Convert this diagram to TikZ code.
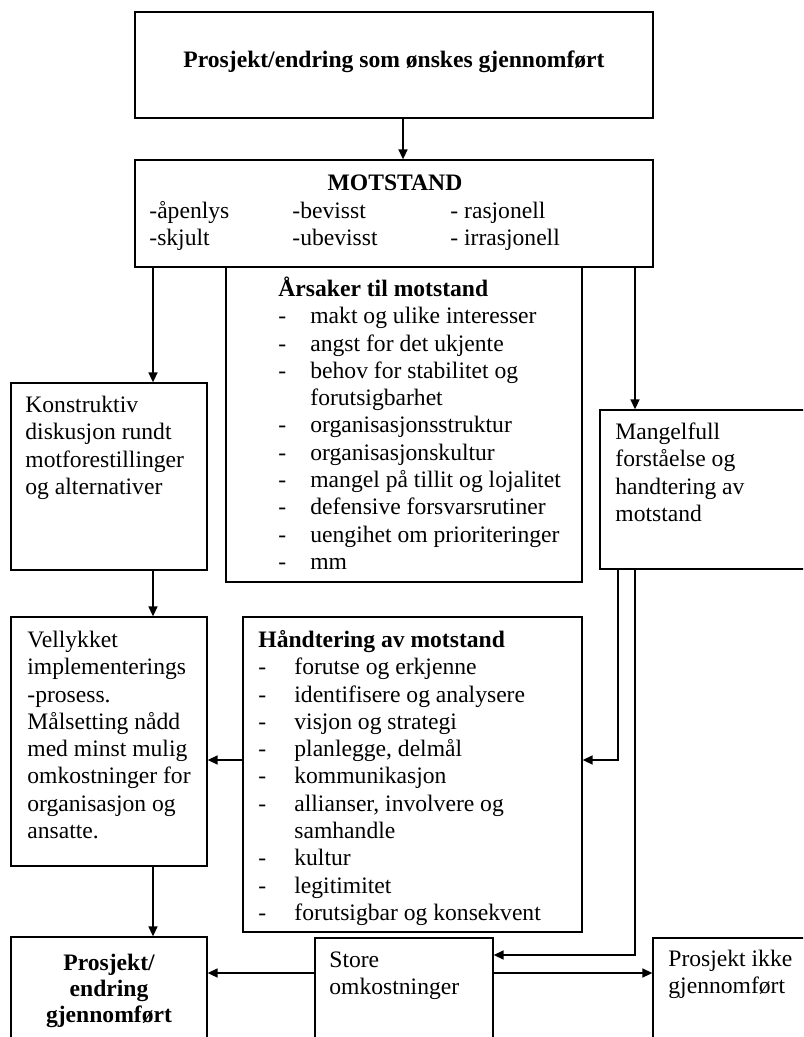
\documentclass[tikz,border=0pt]{standalone}
\usepackage{fontspec}
\setmainfont{Liberation Serif}
\usetikzlibrary{fit,arrows.meta}
\newcommand\fs{\fontsize{11.8}{13.65}\selectfont}
\newcommand\fl{\rule{0pt}{12pt}}
\newcommand\itmA[1]{\makebox[16pt][l]{-}#1}
\newcommand\itmB[1]{\makebox[18pt][l]{-}#1}
\begin{document}
\begin{tikzpicture}[x=0.5pt,y=-0.5pt,
  box/.style={draw, line width=0.65pt, inner sep=0pt, rectangle},
  txt/.style={inner sep=0pt, anchor=north west, align=left, font=\fs},
  ctxt/.style={inner sep=0pt, anchor=north, align=center, font=\fs\bfseries},
  arr/.style={line width=0.75pt, -{Triangle[length=5pt,width=4.5pt]}}]
\useasboundingbox (0,0) rectangle (803,1037);
\clip (0,0) rectangle (803,1037);

% boxes
\node[box, fit={(135,12) (653,118)}] (top) {};
\node[box, fit={(135,160) (653,267)}] (mot) {};
\node[box, fit={(226,267) (582,582)}] (ars) {};
\node[box, fit={(11,383) (207,570)}] (kon) {};
\node[box, fit={(600,410) (900,569)}] (man) {};
\node[box, fit={(11,617) (207,866)}] (vel) {};
\node[box, fit={(243,617) (582,932)}] (hand) {};
\node[box, fit={(11,937) (207,1100)}] (pg) {};
\node[box, fit={(315,938) (493,1100)}] (store) {};
\node[box, fit={(653,938) (900,1100)}] (pik) {};

% texts
\node[inner sep=0pt, anchor=base, font=\fs\bfseries] (ttop) at (394,68) {Prosjekt/endring som ønskes gjennomført};
\node[inner sep=0pt, anchor=base, font=\fs\bfseries] (tmot) at (395,191) {MOTSTAND};
\node[txt] (mc1) at (149,194) {\fl-åpenlys\\-skjult};
\node[txt] (mc2) at (292,194) {\fl-bevisst\\-ubevisst};
\node[txt] (mc3) at (450,194) {\fl- rasjonell\\- irrasjonell};

\node[txt] (tars) at (278,272) {\fl\textbf{Årsaker til motstand}\\
\itmA{makt og ulike interesser}\\
\itmA{angst for det ukjente}\\
\itmA{behov for stabilitet og}\\
\hspace*{16pt}forutsigbarhet\\
\itmA{organisasjonsstruktur}\\
\itmA{organisasjonskultur}\\
\itmA{mangel på tillit og lojalitet}\\
\itmA{defensive forsvarsrutiner}\\
\itmA{uengihet om prioriteringer}\\
\itmA{mm}};

\node[txt] (tkon) at (25,388) {\fl Konstruktiv\\diskusjon rundt\\motforestillinger\\og alternativer};
\node[txt] (tman) at (615,415) {\fl Mangelfull\\forståelse og\\handtering av\\motstand};

\node[txt] (tvel) at (27,623) {\fl Vellykket\\implementerings\\-prosess.\\Målsetting nådd\\med minst mulig\\omkostninger for\\organisasjon og\\ansatte.};

\node[txt] (thand) at (258,623) {\fl\textbf{Håndtering av motstand}\\
\itmB{forutse og erkjenne}\\
\itmB{identifisere og analysere}\\
\itmB{visjon og strategi}\\
\itmB{planlegge, delmål}\\
\itmB{kommunikasjon}\\
\itmB{allianser, involvere og}\\
\hspace*{18pt}samhandle\\
\itmB{kultur}\\
\itmB{legitimitet}\\
\itmB{forutsigbar og konsekvent}};

\node[ctxt, font=\fontsize{11.8}{13}\selectfont\bfseries] (tpg) at (109,946) {\fl Prosjekt/\\endring\\gjennomført};
\node[txt] (tstore) at (329,943) {\fl Store\\omkostninger};
\node[txt] (tpik) at (668,942) {\fl Prosjekt ikke\\gjennomført};

% connector helpers
\coordinate (xa) at (403,0);
\coordinate (xl) at (153,0);
\coordinate (xr) at (635,0);
\coordinate (xr2) at (618,0);
\coordinate (yh) at (0,760);
\coordinate (ys) at (0,955);
\coordinate (yb) at (0,973);

% connectors
\draw[arr] (top.south -| xa) -- (mot.north -| xa);
\draw[arr] (mot.south -| xl) -- (kon.north -| xl);
\draw[arr] (mot.south -| xr) -- (man.north -| xr);
\draw[arr] (kon.south -| xl) -- (vel.north -| xl);
\draw[arr] (hand.west |- yh) -- (vel.east |- yh);
\draw[arr] (man.south -| xr2) -- (xr2 |- yh) -- (hand.east |- yh);
\draw[arr] (man.south -| xr) -- (xr |- ys) -- (store.east |- ys);
\draw[arr] (vel.south -| xl) -- (pg.north -| xl);
\draw[arr] (store.west |- yb) -- (pg.east |- yb);
\draw[arr] (store.east |- yb) -- (pik.west |- yb);
\end{tikzpicture}
\end{document}
